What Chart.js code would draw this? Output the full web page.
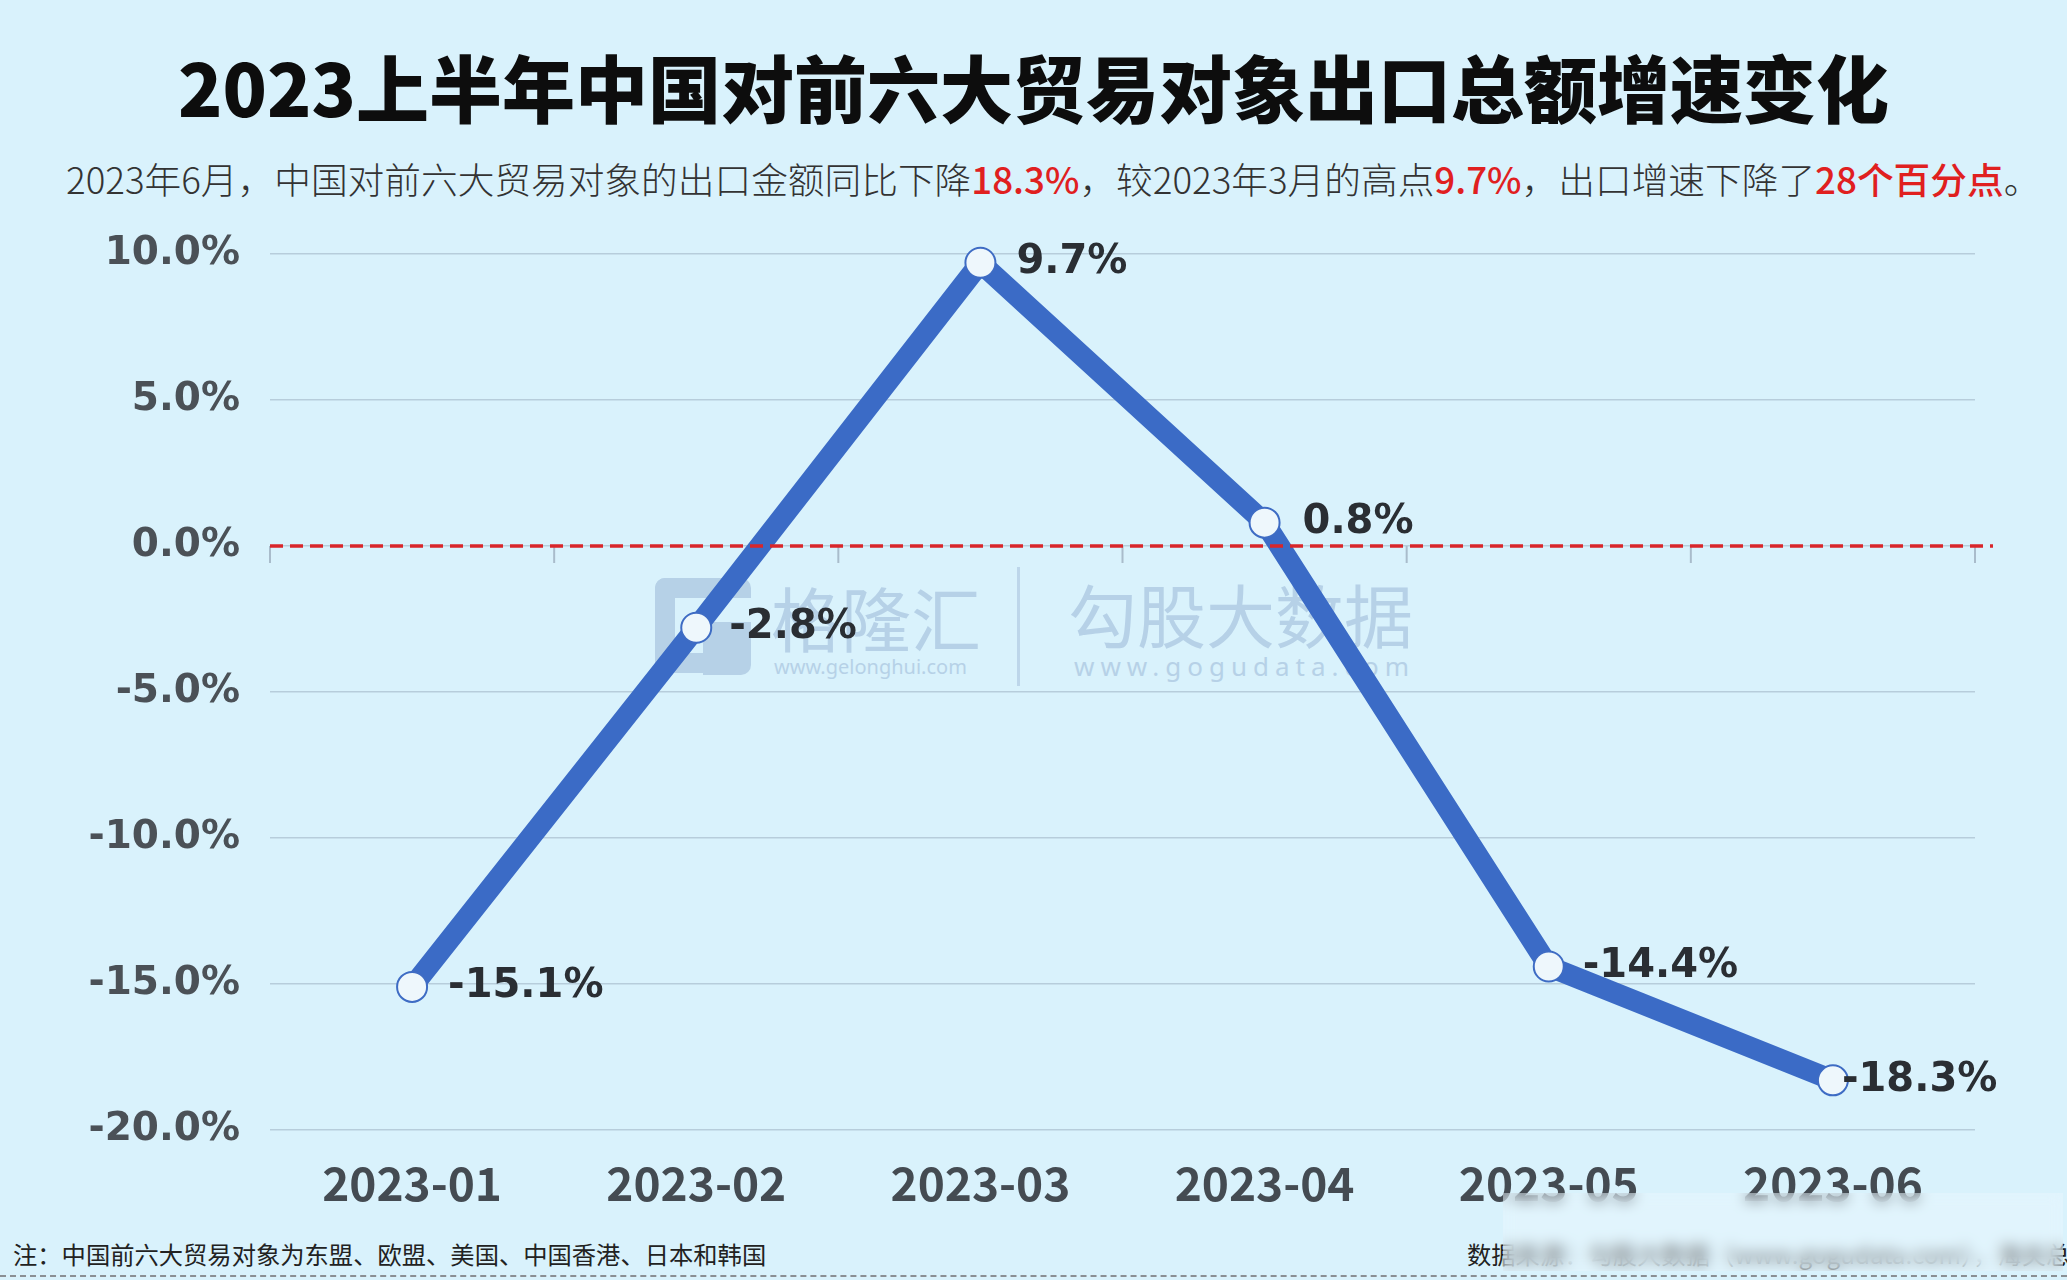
<!DOCTYPE html>
<html>
<head>
<meta charset="utf-8">
<script src="https://cdn.jsdelivr.net/npm/chart.js@4.4.0/dist/chart.umd.min.js"></script>
<style>
  html, body { margin:0; padding:0; }
  body { width:2067px; height:1280px; background:#d9f2fc; position:relative; overflow:hidden; font-family:"Noto Sans CJK SC", "Noto Sans", sans-serif; }
  .abs { position:absolute; white-space:nowrap; }
  #title { left:0; width:2067px; top:49px; text-align:center; font-size:73px; line-height:73px; font-weight:900; color:#0d0d0d; }
  #subtitle { left:66px; top:160px; font-size:36.7px; line-height:37px; color:#333; font-weight:300; }
  #subtitle .r { color:#e0201f; font-weight:500; }
  #noteL { left:13px; top:1241px; font-size:24.3px; line-height:26px; color:#222; }
  #noteR { left:1467px; top:1241px; font-size:24.3px; line-height:26px; color:#222; }
  #dash { left:0; top:1275px; width:2067px; height:0; border-top:2px dashed #8a8f94; }
  #wrap { position:absolute; left:0; top:0; width:2067px; height:1280px; z-index:2; }
  .wm { z-index:1; color:#b6d1e7; }
  #blur { position:absolute; left:1503px; top:1193px; width:560px; height:78px; z-index:5;
          backdrop-filter: blur(7px); -webkit-backdrop-filter: blur(7px); background:rgba(240,248,255,0.35); }
</style>
</head>
<body>
<div id="title" class="abs">2023上半年中国对前六大贸易对象出口总额增速变化</div>
<div id="subtitle" class="abs">2023年6月，中国对前六大贸易对象的出口金额同比下降<span class="r">18.3%</span>，较2023年3月的高点<span class="r">9.7%</span>，出口增速下降了<span class="r">28个百分点</span>。</div>

<!-- watermark -->
<div class="abs wm" style="left:655px;top:578px;width:96px;height:97px;">
  <div style="position:absolute;left:0;top:0;width:56px;height:55px;border:20px solid #b6d1e7;border-right:none;border-radius:10px 0 0 10px;"></div>
  <div style="position:absolute;left:56px;top:0;width:40px;height:20px;background:#b6d1e7;border-radius:0 10px 0 0;"></div>
  <div style="position:absolute;left:48px;top:44px;width:48px;height:53px;background:#b6d1e7;border-radius:0 0 10px 0;"></div>
</div>
<div class="abs wm" style="left:771px;top:580px;font-size:70px;line-height:74px;">格隆汇</div>
<div class="abs wm" style="left:774px;top:655px;font-size:20px;line-height:24px;font-family:'Noto Sans',sans-serif;">www.gelonghui.com</div>
<div class="abs wm" style="left:1017px;top:567px;width:3px;height:119px;background:#bdd6ea;"></div>
<div class="abs wm" style="left:1068px;top:576px;font-size:69px;line-height:74px;">勾股大数据</div>
<div class="abs wm" style="left:1074px;top:651px;font-size:26px;line-height:30px;letter-spacing:6px;font-family:'Noto Sans',sans-serif;">www.gogudata.com</div>

<div id="wrap"><canvas id="c"></canvas></div>

<div id="noteL" class="abs">注：中国前六大贸易对象为东盟、欧盟、美国、中国香港、日本和韩国</div>
<div id="noteR" class="abs">数据来源：勾股大数据（www.gogudata.com），海关总署</div>
<div id="dash" class="abs"></div>
<div id="blur"></div>

<script>
const categories = ['2023-01', '2023-02', '2023-03', '2023-04', '2023-05', '2023-06'];
const growthValues = [-15.1, -2.8, 9.7, 0.8, -14.4, -18.3];
const yMin = -20, yMax = 10, yStep = 5;

// label horizontal gap from each point (style only)
const labelGap = [36, 33, 36, 38, 34, 9];

const overlayPlugin = {
  id: 'overlay',
  afterDatasetsDraw(chart) {
    const ctx = chart.ctx;
    const x = chart.scales.x, y = chart.scales.y;
    const area = chart.chartArea;
    const y0 = y.getPixelForValue(0);
    ctx.save();
    // category boundary ticks
    ctx.strokeStyle = '#a9bccb';
    ctx.lineWidth = 2;
    const n = categories.length;
    for (let i = 0; i <= n; i++) {
      let px;
      if (i === 0) px = area.left;
      else if (i === n) px = area.right;
      else px = (x.getPixelForValue(i - 1) + x.getPixelForValue(i)) / 2;
      ctx.beginPath();
      ctx.moveTo(px, y0);
      ctx.lineTo(px, y0 + 17);
      ctx.stroke();
    }
    // red dashed zero line
    ctx.strokeStyle = '#d9262a';
    ctx.lineWidth = 3.5;
    ctx.setLineDash([13, 7]);
    ctx.beginPath();
    ctx.moveTo(area.left, y0);
    ctx.lineTo(area.right + 18, y0);
    ctx.stroke();
    ctx.setLineDash([]);
    // data labels
    const meta = chart.getDatasetMeta(0);
    ctx.font = 'bold 40px "DejaVu Sans"';
    ctx.fillStyle = '#2a2e33';
    ctx.textAlign = 'left';
    ctx.textBaseline = 'middle';
    meta.data.forEach((pt, i) => {
      ctx.fillText(growthValues[i].toFixed(1) + '%', pt.x + labelGap[i], pt.y);
    });
    ctx.restore();
  }
};

new Chart(document.getElementById('c'), {
  type: 'line',
  data: {
    labels: categories,
    datasets: [{
      data: growthValues,
      borderColor: '#3b6bc6',
      borderWidth: 21,
      borderJoinStyle: 'round',
      borderCapStyle: 'round',
      pointRadius: 15,
      pointHoverRadius: 15,
      pointBackgroundColor: '#eef7fc',
      pointBorderColor: '#3e6cc4',
      pointBorderWidth: 2,
      tension: 0,
      clip: false
    }]
  },
  options: {
    responsive: true,
    maintainAspectRatio: false,
    animation: false,
    events: [],
    layout: { padding: { top: 254, right: 92, bottom: 0, left: 0 } },
    plugins: { legend: { display: false }, tooltip: { enabled: false }, title: { display: false } },
    scales: {
      x: {
        type: 'category',
        offset: true,
        grid: { display: false, drawTicks: false },
        border: { display: false },
        ticks: { color: '#444b52', font: { family: '"Noto Sans CJK SC"', size: 46, weight: 'bold' }, padding: 26, maxRotation: 0, autoSkip: false },
        afterFit(s) { s.height = 150; }
      },
      y: {
        min: yMin, max: yMax,
        grid: { color: '#b7cddb', lineWidth: 1.5, drawTicks: false },
        border: { display: false },
        ticks: {
          stepSize: yStep,
          color: '#4b5157',
          font: { family: '"DejaVu Sans"', size: 39, weight: 'bold' },
          padding: 30,
          callback: v => v.toFixed(1) + '%'
        },
        afterFit(s) { s.width = 270; }
      }
    }
  },
  plugins: [overlayPlugin]
});
</script>
</body>
</html>
